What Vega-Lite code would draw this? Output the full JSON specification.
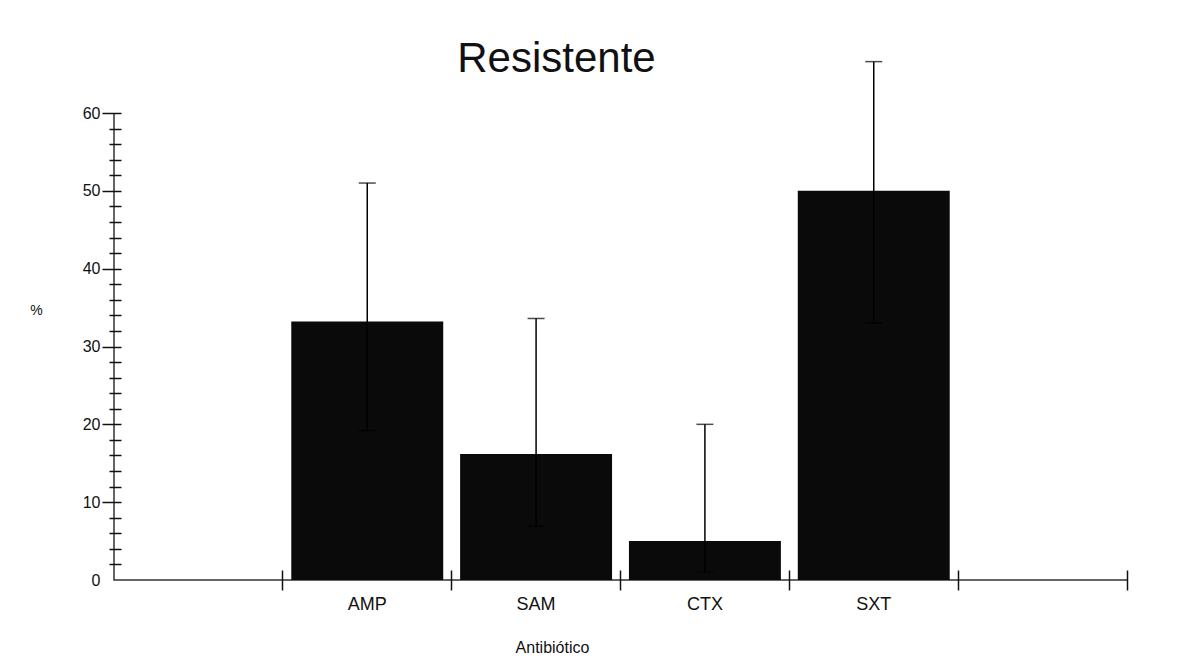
{
  "$schema": "https://vega.github.io/schema/vega-lite/v6.json",
  "autosize": "none",
  "width": 1013,
  "height": 467,
  "padding": {"left": 114, "top": 113, "right": 54, "bottom": 82},
  "background": "white",
  "config": {
    "view": {"stroke": "#333", "strokeWidth": 1.5, "strokeDash": [0, 1480, 1480, 0]},
    "font": "Liberation Sans",
    "axis": {"labelFont": "Liberation Sans", "titleFont": "Liberation Sans", "labelColor": "#111", "titleColor": "#111", "titleFontWeight": "normal", "grid": false}
  },
  "title": {
    "text": "Resistente",
    "fontSize": 42,
    "fontWeight": "normal",
    "font": "Liberation Sans",
    "color": "#111",
    "anchor": "middle",
    "dx": -64,
    "dy": 30,
    "offset": 10
  },
  "data": {
    "values": [
      {"ab": "AMP", "pct": 33.2, "lo": 19.2, "hi": 51.0},
      {"ab": "SAM", "pct": 16.2, "lo": 6.9, "hi": 33.6},
      {"ab": "CTX", "pct": 5.0, "lo": 1.0, "hi": 20.0},
      {"ab": "SXT", "pct": 50.0, "lo": 33.0, "hi": 66.6}
    ]
  },
  "encoding": {
    "x": {
      "field": "ab", "type": "nominal",
      "scale": {"domain": ["_a", "AMP", "SAM", "CTX", "SXT", "_b"], "paddingInner": 0, "paddingOuter": 0},
      "axis": {
        "bandPosition": 1,
        "labelExpr": "indexof(datum.value, '_') == 0 ? '' : datum.value",
        "labelAngle": 0,
        "domain": false,
        "offset": -10,
        "tickSize": 20,
        "tickColor": "#111",
        "tickWidth": 1.5,
        "labelFontSize": 18,
        "labelPadding": 5,
        "title": "Antibiótico",
        "titleFontSize": 16,
        "titlePadding": 26,
        "titleX": 438,
        "titleAlign": "center"
      }
    }
  },
  "layer": [
    {
      "mark": {"type": "bar", "width": {"band": 0.9}, "color": "#0a0a0a"},
      "encoding": {
        "y": {
          "field": "pct", "type": "quantitative",
          "scale": {"domain": [0, 60], "nice": false},
          "axis": {
            "values": [0, 2, 4, 6, 8, 10, 12, 14, 16, 18, 20, 22, 24, 26, 28, 30, 32, 34, 36, 38, 40, 42, 44, 46, 48, 50, 52, 54, 56, 58, 60],
            "tickCount": 100,
            "format": "d",
            "labelExpr": "datum.value % 10 == 0 ? datum.label : ''",
            "domain": false,
            "offset": -7,
            "tickSize": {"condition": {"test": "datum.value % 10 == 0", "value": 19}, "value": 12},
            "tickOpacity": {"condition": {"test": "datum.value == 0", "value": 0}, "value": 1},
            "tickWidth": 1.5,
            "tickColor": "#111",
            "labelFontSize": 16,
            "labelPadding": 2,
            "labelOverlap": false,
            "title": "%",
            "titleAngle": 0,
            "titleFontSize": 14,
            "titleX": -85,
            "titleY": 197,
            "titleAlign": "center",
            "titleBaseline": "middle"
          }
        }
      }
    },
    {
      "mark": {"type": "rule", "color": "#000", "strokeWidth": 1.5},
      "encoding": {
        "y": {"field": "lo", "type": "quantitative"},
        "y2": {"field": "hi"}
      }
    },
    {
      "mark": {"type": "tick", "orient": "horizontal", "color": "#000", "size": 17, "thickness": 1.5},
      "encoding": {
        "y": {"field": "lo", "type": "quantitative"}
      }
    },
    {
      "mark": {"type": "tick", "orient": "horizontal", "color": "#000", "size": 17, "thickness": 1.5},
      "encoding": {
        "y": {"field": "hi", "type": "quantitative"}
      }
    }
  ]
}
